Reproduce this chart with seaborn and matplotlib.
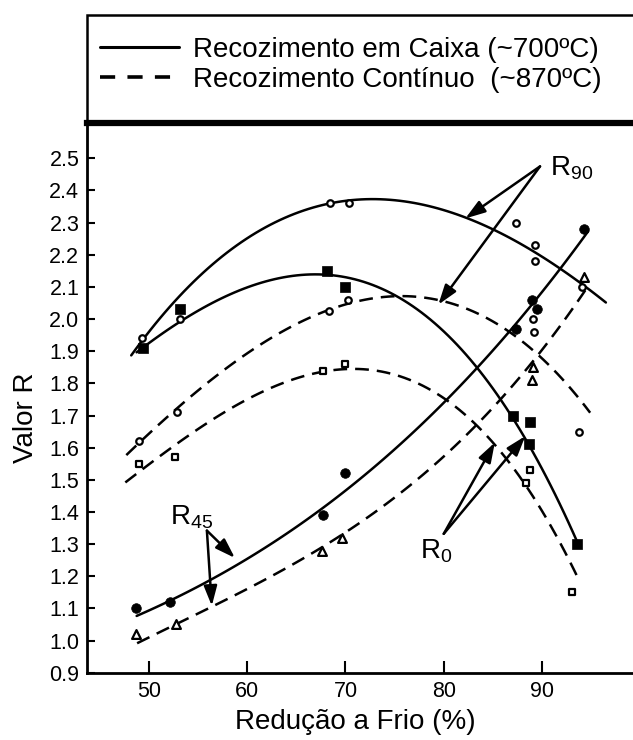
import matplotlib
matplotlib.use("Agg")
import matplotlib.pyplot as plt
from matplotlib.lines import Line2D
from matplotlib.patches import Rectangle
from matplotlib.ticker import FormatStrFormatter
import seaborn as sns

# ---- measured Lankford R-values (markers) ----
box_r90_x = [49.3, 53.2, 68.4, 70.4, 87.4, 89.3, 89.3, 94.1]
box_r90_y = [1.94, 2.00, 2.36, 2.36, 2.30, 2.23, 2.18, 2.10]
box_r0_x = [49.4, 53.2, 68.1, 70.0, 87.0, 88.8, 88.7, 93.6]
box_r0_y = [1.91, 2.03, 2.15, 2.10, 1.70, 1.68, 1.61, 1.30]
box_r45_x = [48.7, 52.1, 67.7, 70.0, 87.4, 89.0, 89.5, 94.3]
box_r45_y = [1.10, 1.12, 1.39, 1.52, 1.97, 2.06, 2.03, 2.28]

cont_r90_x = [49.0, 52.9, 68.3, 70.3, 89.1, 89.2, 93.8]
cont_r90_y = [1.62, 1.71, 2.025, 2.06, 2.00, 1.96, 1.65]
cont_r0_x = [49.0, 52.7, 67.7, 70.0, 88.8, 88.4, 93.1]
cont_r0_y = [1.55, 1.57, 1.84, 1.86, 1.53, 1.49, 1.15]
cont_r45_x = [48.7, 52.8, 67.6, 69.6, 89.1, 89.0, 94.3]
cont_r45_y = [1.02, 1.05, 1.28, 1.32, 1.85, 1.81, 2.13]

# ---- trend curves (points along each hand-drawn trend) ----
box_r90_cx = [48.2, 53.2, 57.9, 63.0, 68.4, 72.5, 76.9, 82.0, 87.1, 91.8, 96.5]
box_r90_cy = [1.91, 2.02, 2.225, 2.324, 2.36, 2.37, 2.36, 2.31, 2.245, 2.165, 2.05]
box_r0_cx = [48.75, 53.2, 57.9, 63.0, 66.4, 70.0, 73.5, 78.6, 83.3, 87.0, 88.7, 93.6]
box_r0_cy = [1.89, 2.00, 2.075, 2.13, 2.14, 2.12, 2.085, 2.01, 1.85, 1.70, 1.61, 1.30]
box_r45_cx = [48.75, 52.1, 56.2, 61.3, 67.7, 71.5, 75.2, 80.3, 83.3, 87.25, 92.2, 94.7]
box_r45_cy = [1.08, 1.12, 1.19, 1.276, 1.40, 1.505, 1.61, 1.765, 1.85, 1.966, 2.14, 2.30]

cont_r90_cx = [47.7, 49.0, 52.9, 57.2, 63.0, 68.3, 71.8, 79.3, 86.4, 89.5, 94.9]
cont_r90_cy = [1.58, 1.62, 1.71, 1.83, 1.955, 2.03, 2.07, 2.047, 1.97, 1.89, 1.71]
cont_r0_cx = [47.6, 52.8, 57.9, 63.0, 67.7, 70.5, 73.5, 78.6, 83.7, 87.8, 90.5, 93.7]
cont_r0_cy = [1.49, 1.61, 1.715, 1.80, 1.845, 1.85, 1.825, 1.755, 1.655, 1.54, 1.39, 1.17]
cont_r45_cx = [48.8, 52.8, 56.5, 61.3, 67.6, 71.5, 75.2, 80.3, 85.4, 89.1, 92.2, 94.55]
cont_r45_cy = [0.99, 1.05, 1.11, 1.19, 1.28, 1.36, 1.45, 1.59, 1.745, 1.86, 1.99, 2.10]

x_ticks = [50, 60, 70, 80, 90]
y_ticks = [0.9, 1.0, 1.1, 1.2, 1.3, 1.4, 1.5, 1.6, 1.7, 1.8, 1.9, 2.0, 2.1, 2.2, 2.3, 2.4, 2.5]

legend_labels = ["Recozimento em Caixa (~700ºC)", "Recozimento Contínuo  (~870ºC)"]
x_label = "Redução a Frio (%)"
y_label = "Valor R"

sns.set_theme(style="ticks")
plt.rcParams["font.family"] = ["Liberation Sans", "DejaVu Sans"]
plt.rcParams["mathtext.fontset"] = "custom"
plt.rcParams["mathtext.rm"] = "Liberation Sans"
plt.rcParams["mathtext.it"] = "Liberation Sans:italic"
for key in ("text.color", "axes.labelcolor", "xtick.color", "ytick.color",
            "axes.edgecolor"):
    plt.rcParams[key] = "black"

W, H = 633, 740
fig = plt.figure(figsize=(W / 100, H / 100), dpi=100)
ax = fig.add_axes([87 / W, (H - 672.7) / H, (W - 87) / W, (672.7 - 123.3) / H])

solid = "-"
dashed = (0, (5.5, 3.2))

curves = [
    (box_r90_cx, box_r90_cy, solid, 3),
    (box_r0_cx, box_r0_cy, solid, 3),
    (box_r45_cx, box_r45_cy, solid, 3),
    (cont_r90_cx, cont_r90_cy, dashed, 3),
    (cont_r0_cx, cont_r0_cy, dashed, 3),
    (cont_r45_cx, cont_r45_cy, dashed, 3),
]
for cx, cy, ls, order in curves:
    sns.regplot(x=cx, y=cy, order=order, ci=None, scatter=False, truncate=True,
                ax=ax, line_kws=dict(color="black", lw=1.8, linestyle=ls))

markers = [
    (box_r90_x, box_r90_y, "o", "white", 22, 1.6),
    (box_r0_x, box_r0_y, "s", "black", 42, 0.5),
    (box_r45_x, box_r45_y, "o", "black", 48, 0.5),
    (cont_r90_x, cont_r90_y, "o", "white", 22, 1.6),
    (cont_r0_x, cont_r0_y, "s", "white", 20, 1.6),
    (cont_r45_x, cont_r45_y, "^", "white", 40, 1.6),
]
for mx, my, mk, fc, size, ew in markers:
    sns.scatterplot(x=mx, y=my, marker=mk, s=size, facecolor=fc,
                    edgecolor="black", linewidth=ew, ax=ax, zorder=5)

ax.set_xlim(43.7, 99.26)
ax.set_ylim(0.9, 2.609)
ax.set_xticks(x_ticks)
ax.set_yticks(y_ticks)
ax.yaxis.set_major_formatter(FormatStrFormatter("%.1f"))

for side in ("left", "bottom"):
    ax.spines[side].set_linewidth(2.0)
    ax.spines[side].set_color("black")
ax.spines["top"].set_linewidth(4.5)
ax.spines["top"].set_color("black")
ax.spines["right"].set_visible(False)

ax.tick_params(axis="y", direction="in", length=5.8, width=1.5, pad=5.5,
               labelsize=15.5, colors="black")
ax.tick_params(axis="x", direction="in", length=8.4, width=1.5, pad=6,
               labelsize=15.5, colors="black")

ax.set_xlabel(x_label, fontsize=20, color="black")
ax.set_ylabel(y_label, fontsize=20, color="black")
ax.xaxis.set_label_coords(0.4918, -0.066)
ax.yaxis.set_label_coords(-0.088, 0.4636)

# arrows pointing at the R0 / R45 / R90 curve pairs
arrow_kw = dict(arrowstyle="-|>,head_length=0.6,head_width=0.2", color="black",
                lw=1.8, mutation_scale=20, shrinkA=0, shrinkB=0)
arrows = [
    ((89.8, 2.475), (82.2, 2.313)),
    ((89.8, 2.475), (79.45, 2.045)),
    ((55.9, 1.342), (58.75, 1.257)),
    ((55.9, 1.342), (56.4, 1.108)),
    ((80.0, 1.332), (85.2, 1.616)),
    ((80.0, 1.332), (88.3, 1.636)),
]
for tail, head in arrows:
    ax.annotate("", xy=head, xytext=tail, arrowprops=arrow_kw, zorder=6)

ax.text(90.8, 2.446, r"$\mathrm{R_{90}}$", fontsize=20, ha="left", va="baseline",
        color="black")
ax.text(52.1, 1.361, r"$\mathrm{R_{45}}$", fontsize=20, ha="left", va="baseline",
        color="black")
ax.text(77.6, 1.255, r"$\mathrm{R_{0}}$", fontsize=20, ha="left", va="baseline",
        color="black")

# legend panel above the plot
fig.patches.append(Rectangle((87 / W, (H - 123.3) / H), 1.0, (123.3 - 14.5) / H,
                             transform=fig.transFigure, fill=False,
                             edgecolor="black", lw=1.8, clip_on=False))
handles = [Line2D([], [], color="black", lw=2.2, linestyle="-"),
           Line2D([], [], color="black", lw=2.6, linestyle=(0, (4.2, 3.4)))]
fig.legend(handles, legend_labels, loc="center left",
           bbox_to_anchor=(100 / W, 1 - 65 / H), frameon=False, fontsize=20,
           handlelength=2.85, handletextpad=0.5, labelspacing=0.15,
           borderpad=0, borderaxespad=0, labelcolor="black")

fig.savefig("out.png", dpi=100, facecolor="white")
